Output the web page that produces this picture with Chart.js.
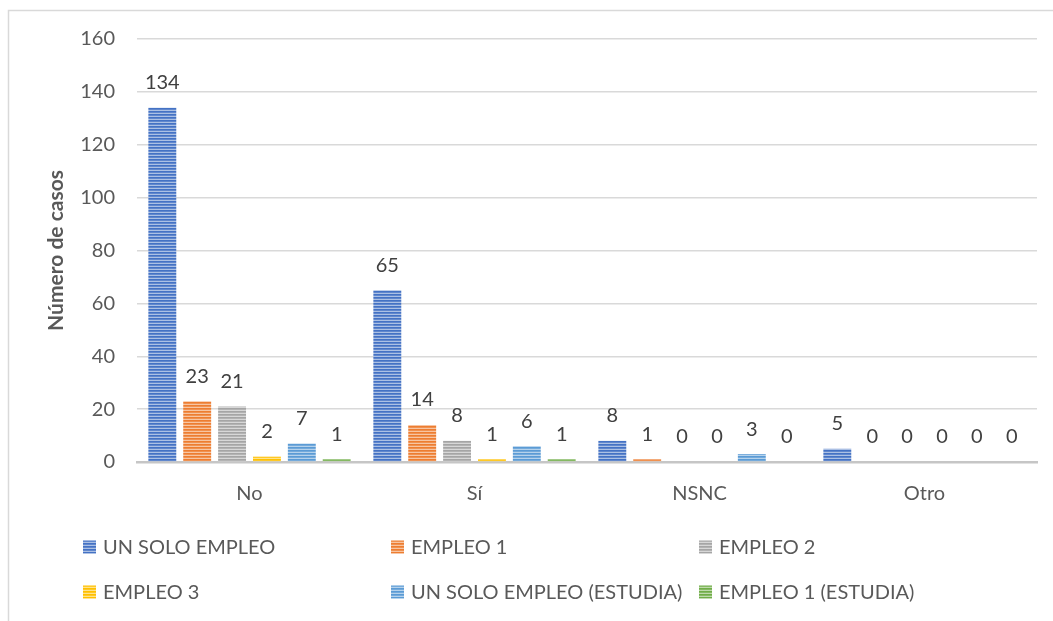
<!DOCTYPE html>
<html>
<head>
<meta charset="utf-8">
<script src="https://cdn.jsdelivr.net/npm/chart.js@4/dist/chart.umd.min.js"></script>
<style>
  html, body { margin: 0; padding: 0; background: #ffffff; }
  #wrap { position: relative; width: 1053px; height: 621px; }
</style>
</head>
<body>
<div id="wrap"><canvas id="c"></canvas></div>
<script>
const categories = ['No', 'Sí', 'NSNC', 'Otro'];
const seriesNames = ['UN SOLO EMPLEO', 'EMPLEO 1', 'EMPLEO 2', 'EMPLEO 3', 'UN SOLO EMPLEO (ESTUDIA)', 'EMPLEO 1 (ESTUDIA)'];
const unSoloEmpleo = [134, 65, 8, 5];
const empleo1 = [23, 14, 1, 0];
const empleo2 = [21, 8, 0, 0];
const empleo3 = [2, 1, 0, 0];
const unSoloEmpleoEstudia = [7, 6, 3, 0];
const empleo1Estudia = [1, 1, 0, 0];
const yTickValues = [0, 20, 40, 60, 80, 100, 120, 140, 160];
const yTitle = 'Número de casos';

const seriesValues = [unSoloEmpleo, empleo1, empleo2, empleo3, unSoloEmpleoEstudia, empleo1Estudia];
const seriesColors = ['#4472C4', '#ED7D31', '#A5A5A5', '#FFC000', '#5B9BD5', '#70AD47'];

function mix(hex, t) {
  const r = parseInt(hex.slice(1, 3), 16), g = parseInt(hex.slice(3, 5), 16), b = parseInt(hex.slice(5, 7), 16);
  const m = c => Math.round(c + (255 - c) * t);
  return 'rgb(' + m(r) + ',' + m(g) + ',' + m(b) + ')';
}
function stripe(hex) {
  const pc = document.createElement('canvas');
  pc.width = 4; pc.height = 3;
  const p = pc.getContext('2d');
  p.fillStyle = hex; p.fillRect(0, 0, 4, 1);
  p.fillStyle = mix(hex, 0.15); p.fillRect(0, 1, 4, 1);
  p.fillStyle = mix(hex, 0.55); p.fillRect(0, 2, 4, 1);
  return document.createElement('canvas').getContext('2d').createPattern(pc, 'repeat');
}
const patterns = seriesColors.map(stripe);

const FONT = 'Lato, "Open Sans", sans-serif';

const framePlugin = {
  id: 'frame',
  beforeDraw(chart) {
    const ctx = chart.ctx;
    ctx.save();
    ctx.fillStyle = '#ffffff';
    ctx.fillRect(0, 0, chart.width, chart.height);
    ctx.strokeStyle = '#d9d9d9';
    ctx.lineWidth = 1.5;
    ctx.strokeRect(8.5, 10.5, chart.width + 20, chart.height + 20);
    ctx.restore();
  }
};

const labelPlugin = {
  id: 'valueLabels',
  afterDatasetsDraw(chart) {
    const ctx = chart.ctx;
    ctx.save();
    ctx.font = '20px ' + FONT;
    ctx.fillStyle = '#404040';
    ctx.textAlign = 'center';
    ctx.textBaseline = 'middle';
    chart.data.datasets.forEach((ds, i) => {
      const meta = chart.getDatasetMeta(i);
      meta.data.forEach((el, j) => {
        ctx.fillText(String(ds.data[j]), el.x, el.y - 25);
      });
    });
    ctx.restore();
  }
};

const legendPlugin = {
  id: 'gridLegend',
  afterDraw(chart) {
    const ctx = chart.ctx;
    ctx.save();
    ctx.font = '20px ' + FONT;
    ctx.textBaseline = 'middle';
    ctx.textAlign = 'left';
    chart.data.datasets.forEach((ds, i) => {
      const col = i % 3, row = Math.floor(i / 3);
      const x = 83 + col * 308;
      const y = 547 + row * 45;
      ctx.fillStyle = ds.backgroundColor;
      ctx.fillRect(x, y - 6.5, 13, 13);
      ctx.fillStyle = '#595959';
      ctx.fillText(ds.label, x + 20, y + 1);
    });
    ctx.restore();
  }
};

new Chart(document.getElementById('c'), {
  type: 'bar',
  data: {
    labels: categories,
    datasets: seriesNames.map((name, i) => ({
      label: name,
      data: seriesValues[i],
      backgroundColor: patterns[i],
      borderWidth: 0,
      barPercentage: 0.8,
      categoryPercentage: 0.93
    }))
  },
  options: {
    responsive: true,
    maintainAspectRatio: false,
    animation: false,
    layout: { padding: { left: 40, right: 16, top: 39, bottom: 0 } },
    plugins: {
      legend: { display: false },
      tooltip: { enabled: false }
    },
    scales: {
      x: {
        grid: { display: false, drawTicks: false },
        border: { display: true, color: '#c6c6c6', width: 2.5 },
        ticks: { color: '#595959', font: { family: FONT, size: 20 }, padding: 20 },
        afterFit(s) { s.height = 159; }
      },
      y: {
        min: 0, max: 160,
        afterBuildTicks(s) { s.ticks = yTickValues.map(v => ({ value: v })); },
        grid: { color: '#d9d9d9', lineWidth: 1.5, drawTicks: false },
        border: { display: false },
        ticks: { color: '#595959', font: { family: FONT, size: 20 }, padding: 22 },
        title: { display: true, text: yTitle, color: '#595959', font: { family: FONT, size: 21, weight: 'bold' }, padding: { top: 4, bottom: 0 } },
        afterFit(s) { s.width = 97; }
      }
    }
  },
  plugins: [framePlugin, labelPlugin, legendPlugin]
});
</script>
</body>
</html>
